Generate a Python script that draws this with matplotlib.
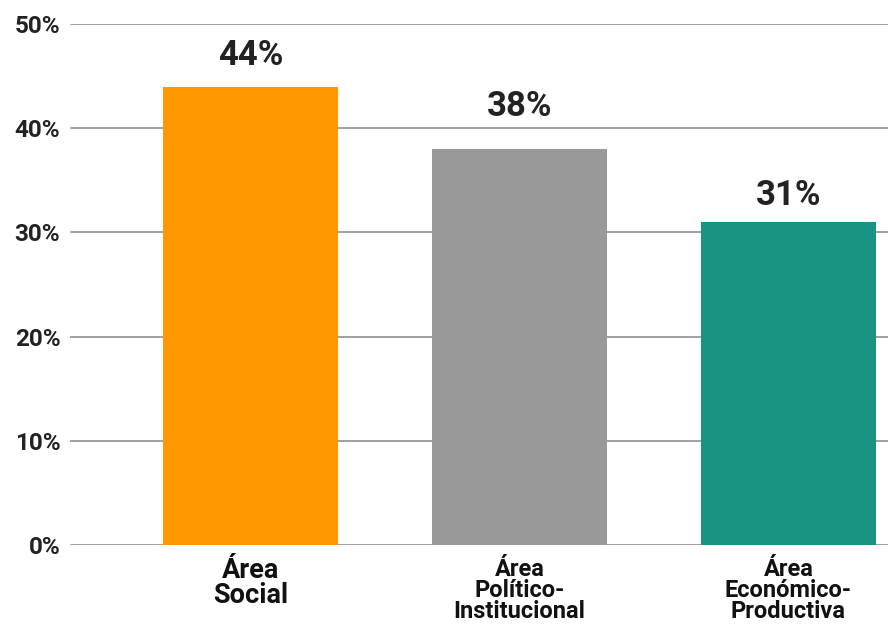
import matplotlib
matplotlib.use("Agg")
import matplotlib.pyplot as plt
import numpy as np

# data
categories = ["Área\nSocial", "Área\nPolítico-\nInstitucional", "Área\nEconómico-\nProductiva"]
values = [44, 38, 31]
bar_colors = ["#FF9800", "#999999", "#1A9482"]
yticks = [0, 10, 20, 30, 40, 50]

plt.rcParams['font.family'] = ['Roboto', 'DejaVu Sans']

fig = plt.figure(figsize=(8.88, 6.27), dpi=100)
ax = fig.add_axes([70/888, 82/627, 1 - 70/888, (603 - 82)/627])

x = np.arange(len(values))
ax.bar(x, values, width=0.65, color=bar_colors, zorder=3)

ax.set_ylim(0, 50)
ax.set_xlim(-0.671, 2.37)
ax.set_yticks(yticks)
ax.set_yticklabels([f"{v}%" for v in yticks], fontsize=17.5, fontweight='bold', color='#222222')
ax.yaxis.grid(True, color='#a0a0a0', linewidth=1.4, zorder=0)
ax.tick_params(axis='y', length=0, pad=7)
ax.tick_params(axis='x', length=0)
ax.set_xticks([])
for s in ax.spines.values():
    s.set_visible(False)

# value labels, gaps in pixels above bar tops
gaps = [15, 26, 10]
for xi, v, g in zip(x, values, gaps):
    ax.annotate(f"{v}%", (xi, v), xytext=(0, g * 0.72), textcoords='offset points',
                ha='center', va='bottom', fontsize=25, fontweight='bold', color='#222222')

# category labels
label_sizes = [19.5, 17, 17]
for xi, lab, fs in zip(x, categories, label_sizes):
    ax.annotate(lab, (xi, 0), xytext=(0, -9), textcoords='offset points',
                ha='center', va='top', fontsize=fs, fontweight='bold', color='#111111',
                fontstretch='condensed', linespacing=0.9)

fig.savefig("out.png", dpi=100)
